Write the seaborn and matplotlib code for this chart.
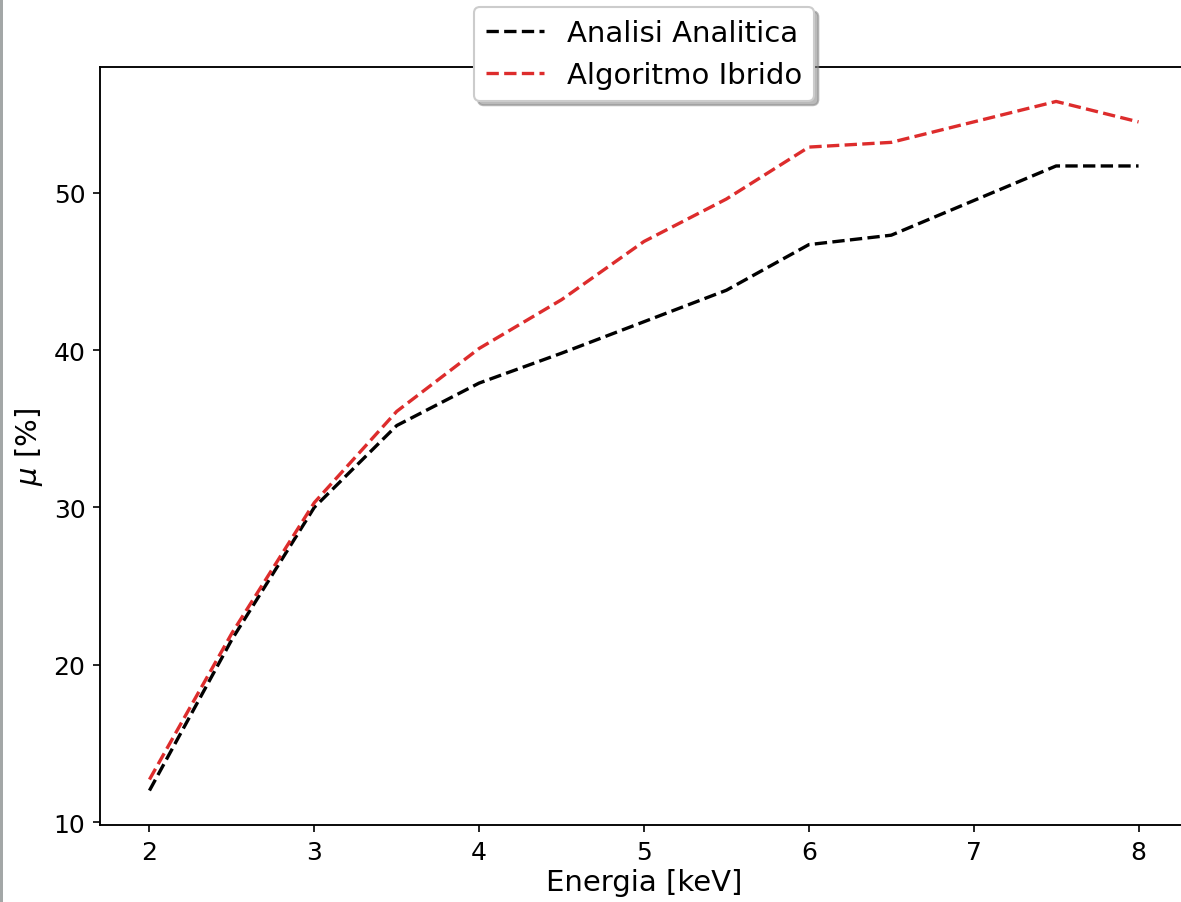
import numpy as np
import pandas as pd
import matplotlib
matplotlib.use("Agg")
import matplotlib.pyplot as plt
import seaborn as sns
from matplotlib.patches import Rectangle

# Energy grid [keV]
energia = [2.0, 2.5, 3.0, 3.5, 4.0, 4.5, 5.0, 5.5, 6.0, 6.5, 7.0, 7.5, 8.0]

# Efficiency mu [%] for the two methods
analisi_analitica = [12.0, 21.6, 30.0, 35.2, 37.9, 39.8, 41.8, 43.8, 46.7, 47.3, 49.5, 51.7, 51.7]
algoritmo_ibrido = [12.7, 22.0, 30.3, 36.1, 40.1, 43.2, 46.9, 49.6, 52.9, 53.2, 54.5, 55.8, 54.5]

series_names = ["Analisi Analitica", "Algoritmo Ibrido"]
series_colors = ["black", "#dd2c2c"]

df = pd.DataFrame({
    "Energia": energia * 2,
    "mu": analisi_analitica + algoritmo_ibrido,
    "serie": [series_names[0]] * len(energia) + [series_names[1]] * len(energia),
})

plt.rcParams["font.family"] = ["DejaVu Sans"]

fig = plt.figure(figsize=(1181 / 150, 903 / 150), dpi=150)
ax = fig.add_axes([100 / 1181, 77 / 903, 1088 / 1181, 758 / 903])

for name, color in zip(series_names, series_colors):
    sub = df[df["serie"] == name]
    sns.lineplot(data=sub, x="Energia", y="mu", ax=ax, color=color,
                 linestyle="--", linewidth=1.6, label=name)

ax.set_xlabel("Energia [keV]", fontsize=14, labelpad=2)
ax.set_ylabel(r"$\mu$ [%]", fontsize=14)
ax.tick_params(labelsize=12)
ax.set_yticks([10, 20, 30, 40, 50])
for s in ax.spines.values():
    s.set_linewidth(0.9)

ax.legend(loc="upper center", bbox_to_anchor=(0.5, 1.079), borderaxespad=0,
          fontsize=14, shadow={"color": "0.55", "alpha": 0.6}, fancybox=True,
          framealpha=1)

# thin grey strip along the left edge of the window
fig.patches.append(Rectangle((0, 0), 3 / 1181, 1, transform=fig.transFigure,
                             facecolor="#a3a7a7", edgecolor="none", zorder=10))

fig.savefig("out.png", dpi=150)
